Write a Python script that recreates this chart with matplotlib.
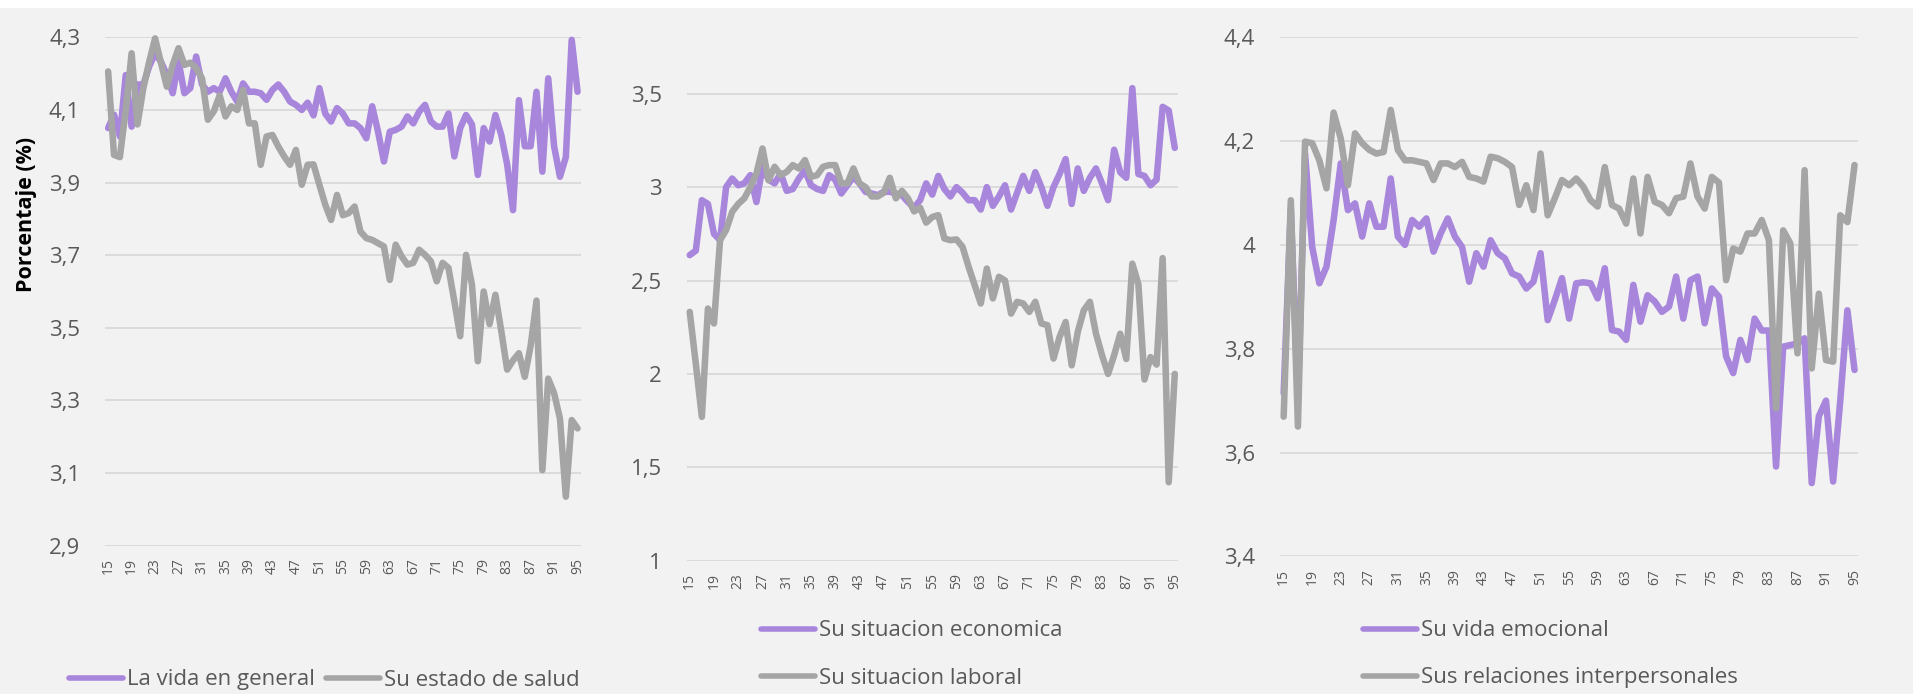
import matplotlib
matplotlib.use("Agg")
import matplotlib.pyplot as plt
from matplotlib.lines import Line2D
from matplotlib.patches import Rectangle

plt.rcParams['font.family'] = ['Open Sans', 'DejaVu Sans']

# ages on the category axis
edades = list(range(15, 96))
ticks_x = list(range(15, 96, 4))

# panel 1
vida_general = [4.05, 4.087, 4.027, 4.196, 4.054, 4.17, 4.17, 4.22, 4.256, 4.233,
                4.196, 4.146, 4.233, 4.146, 4.16, 4.247, 4.17, 4.15, 4.16, 4.15,
                4.187, 4.15, 4.123, 4.173, 4.15, 4.15, 4.146, 4.128, 4.155, 4.17,
                4.15, 4.123, 4.114, 4.1, 4.12, 4.085, 4.16, 4.09, 4.068, 4.105,
                4.09, 4.063, 4.063, 4.05, 4.022, 4.11, 4.04, 3.958, 4.04, 4.045,
                4.054, 4.082, 4.063, 4.095, 4.114, 4.068, 4.054, 4.054, 4.09, 3.972,
                4.05, 4.086, 4.06, 3.921, 4.05, 4.013, 4.086, 4.031, 3.95, 3.824,
                4.127, 4.0, 4.0, 4.15, 3.93, 4.187, 4.0, 3.916, 3.97, 4.293,
                4.15]
estado_salud = [4.206, 3.976, 3.97, 4.1, 4.256, 4.06, 4.16, 4.233, 4.297, 4.23,
                4.164, 4.224, 4.27, 4.224, 4.23, 4.215, 4.187, 4.073, 4.096, 4.14,
                4.082, 4.11, 4.1, 4.155, 4.063, 4.063, 3.949, 4.027, 4.031, 3.999,
                3.972, 3.949, 3.99, 3.894, 3.949, 3.95, 3.894, 3.839, 3.797, 3.866,
                3.81, 3.816, 3.834, 3.765, 3.747, 3.742, 3.733, 3.724, 3.632, 3.729,
                3.697, 3.674, 3.679, 3.715, 3.701, 3.683, 3.628, 3.679, 3.665, 3.573,
                3.477, 3.701, 3.619, 3.408, 3.6, 3.51, 3.591, 3.491, 3.385, 3.41,
                3.43, 3.365, 3.45, 3.575, 3.108, 3.36, 3.32, 3.25, 3.035, 3.246,
                3.223]

# panel 2
sit_economica = [2.636, 2.66, 2.93, 2.91, 2.75, 2.716, 3.0, 3.046, 3.01, 3.02,
                 3.064, 2.92, 3.11, 3.04, 3.02, 3.073, 2.98, 2.99, 3.046, 3.09,
                 3.01, 2.99, 2.98, 3.064, 3.04, 2.966, 3.01, 3.055, 3.02, 2.975,
                 2.966, 2.957, 2.975, 2.975, 2.966, 2.957, 2.92, 2.89, 2.93, 3.02,
                 2.96, 3.06, 2.99, 2.95, 3.0, 2.97, 2.93, 2.93, 2.88, 3.0,
                 2.9, 2.95, 3.01, 2.88, 2.97, 3.06, 2.98, 3.08, 3.0, 2.9,
                 3.0, 3.07, 3.15, 2.91, 3.1, 2.98, 3.05, 3.1, 3.02, 2.93,
                 3.2, 3.08, 3.05, 3.53, 3.07, 3.06, 3.01, 3.04, 3.43, 3.41,
                 3.21]
sit_laboral = [2.332, 2.055, 1.77, 2.35, 2.27, 2.716, 2.77, 2.868, 2.91, 2.94,
               3.0, 3.073, 3.207, 3.037, 3.109, 3.064, 3.082, 3.118, 3.1, 3.145,
               3.055, 3.064, 3.109, 3.118, 3.118, 3.02, 3.02, 3.1, 3.02, 3.0,
               2.95, 2.95, 2.97, 3.05, 2.94, 2.98, 2.94, 2.87, 2.89, 2.81,
               2.84, 2.85, 2.725, 2.716, 2.72, 2.68, 2.573, 2.475, 2.377, 2.564,
               2.404, 2.52, 2.5, 2.323, 2.386, 2.377, 2.332, 2.386, 2.27, 2.261,
               2.082, 2.198, 2.278, 2.046, 2.225, 2.341, 2.386, 2.216, 2.1, 2.0,
               2.1, 2.215, 2.08, 2.59, 2.48, 1.97, 2.09, 2.05, 2.62, 1.42,
               2.0]

# panel 3
vida_emocional = [3.714, 4.07, 3.70, 4.176, 3.996, 3.926, 3.958, 4.048, 4.157, 4.067,
                  4.08, 4.016, 4.08, 4.035, 4.035, 4.128, 4.016, 4.0, 4.048, 4.035,
                  4.051, 3.987, 4.022, 4.051, 4.016, 3.996, 3.929, 3.984, 3.958, 4.009,
                  3.984, 3.974, 3.945, 3.939, 3.916, 3.929, 3.984, 3.855, 3.894, 3.936,
                  3.858, 3.926, 3.928, 3.926, 3.897, 3.955, 3.836, 3.833, 3.817, 3.923,
                  3.852, 3.903, 3.891, 3.871, 3.881, 3.939, 3.858, 3.932, 3.939, 3.849,
                  3.916, 3.9, 3.785, 3.753, 3.817, 3.778, 3.858, 3.835, 3.835, 3.573,
                  3.804, 3.807, 3.81, 3.82, 3.541, 3.67, 3.70, 3.544, 3.70, 3.874,
                  3.759]
relaciones = [3.669, 4.086, 3.65, 4.199, 4.196, 4.163, 4.109, 4.255, 4.205, 4.115,
              4.215, 4.196, 4.183, 4.176, 4.179, 4.26, 4.183, 4.163, 4.163, 4.16,
              4.157, 4.125, 4.157, 4.157, 4.15, 4.16, 4.131, 4.128, 4.122, 4.17,
              4.167, 4.16, 4.15, 4.077, 4.115, 4.067, 4.176, 4.057, 4.09, 4.125,
              4.115, 4.128, 4.112, 4.086, 4.074, 4.15, 4.077, 4.07, 4.041, 4.128,
              4.022, 4.131, 4.083, 4.077, 4.061, 4.09, 4.093, 4.157, 4.093, 4.07,
              4.131, 4.12, 3.932, 3.993, 3.987, 4.022, 4.022, 4.048, 4.009, 3.685,
              4.028, 4.003, 3.791, 4.144, 3.762, 3.906, 3.778, 3.775, 4.057, 4.044,
              4.154]

MORADO = '#A886DB'
GRIS = '#A5A5A5'
TEXTO = '#595959'

W, H = 1913, 694
fig = plt.figure(figsize=(W / 100, H / 100), dpi=100)
fig.patch.set_facecolor('#F2F2F2')
fig.add_artist(Rectangle((0, 1 - 8 / H), 1, 8 / H, transform=fig.transFigure,
                         facecolor='white', edgecolor='none'))


def px_axes(left, top, right, bottom):
    return fig.add_axes([left / W, 1 - bottom / H, (right - left) / W, (bottom - top) / H])


def coma(v, pos=None):
    return f"{round(v, 2):g}".replace('.', ',')


paneles = [
    # (box in px, ylim, yticks, series)
    ((105.2, 37.3, 580.5, 545.7), (2.9, 4.3), [2.9 + 0.2 * i for i in range(8)],
     [(vida_general, MORADO, 'La vida en general'), (estado_salud, GRIS, 'Su estado de salud')]),
    ((686.7, 37.7, 1177.8, 560.7), (1.0, 3.8), [1 + 0.5 * i for i in range(6)],
     [(sit_economica, MORADO, 'Su situacion economica'), (sit_laboral, GRIS, 'Su situacion laboral')]),
    ((1280.1, 37.3, 1858.1, 556.3), (3.4, 4.4), [3.4 + 0.2 * i for i in range(6)],
     [(vida_emocional, MORADO, 'Su vida emocional'), (relaciones, GRIS, 'Sus relaciones interpersonales')]),
]

for box, ylim, yticks, series in paneles:
    ax = px_axes(*box)
    ax.set_facecolor('none')
    for vals, col, lab in series:
        ax.plot(edades, vals, color=col, lw=4.7, solid_joinstyle='round',
                solid_capstyle='round', clip_on=False, label=lab)
    ax.set_xlim(14.5, 95.5)
    ax.set_ylim(*ylim)
    ax.set_yticks(yticks)
    ax.set_yticklabels([coma(v) for v in yticks])
    ax.set_xticks(ticks_x)
    ax.set_xticklabels([str(t) for t in ticks_x], rotation=90)
    ax.yaxis.grid(True, color='#D9D9D9', lw=1.3)
    ax.set_axisbelow(True)
    for s in ax.spines.values():
        s.set_visible(False)
    ax.tick_params(axis='y', length=0, pad=18, labelsize=16, labelcolor=TEXTO)
    ax.tick_params(axis='x', length=0, pad=9, labelsize=10, labelcolor=TEXTO)

fig.text(27 / W, 1 - 214 / H, 'Porcentaje (%)', rotation=90, fontsize=15.5,
         fontweight='bold', color='black', ha='center', va='center')

# legends, one entry each, anchored at the start of the handle (px)
leyendas = [
    ('La vida en general', MORADO, 68.9, 680),
    ('Su estado de salud', GRIS, 326.0, 680),
    ('Su situacion economica', MORADO, 760.6, 631),
    ('Su situacion laboral', GRIS, 760.6, 678),
    ('Su vida emocional', MORADO, 1362.8, 631),
    ('Sus relaciones interpersonales', GRIS, 1362.8, 678),
]
for lab, col, x, y in leyendas:
    fig.legend([Line2D([], [], color=col, lw=4, solid_capstyle='round')], [lab],
               loc='center left', bbox_to_anchor=(x / W, 1 - y / H),
               frameon=False, borderpad=0, borderaxespad=0, handlelength=2.45,
               handletextpad=0.18, fontsize=16, labelcolor=TEXTO)

fig.savefig('out.png', dpi=100, facecolor=fig.get_facecolor())
